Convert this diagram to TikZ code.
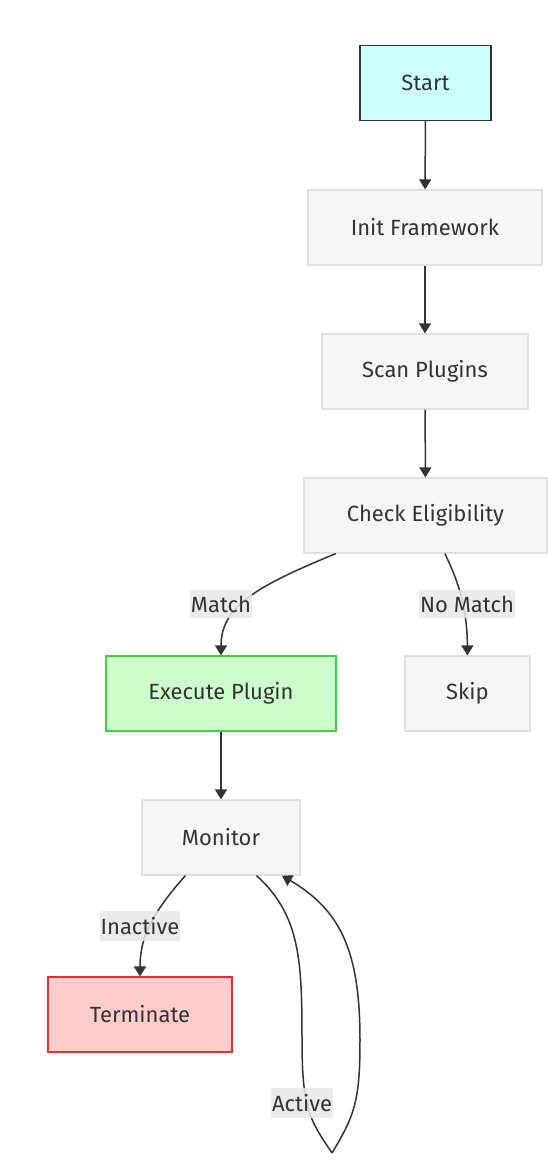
\documentclass[tikz,border=0pt]{standalone}
\usepackage{fontspec}
\setmainfont{Fira Sans}
\usepackage{tikz}
\usetikzlibrary{arrows.meta}

\definecolor{txtgray}{RGB}{51,51,51}
\definecolor{boxfill}{RGB}{246,246,246}
\definecolor{boxline}{RGB}{224,224,224}
\definecolor{startfill}{RGB}{204,255,255}
\definecolor{execfill}{RGB}{204,255,204}
\definecolor{execline}{RGB}{68,204,68}
\definecolor{termfill}{RGB}{255,204,204}
\definecolor{termline}{RGB}{221,51,51}
\definecolor{lblfill}{RGB}{232,232,232}

\tikzset{
  box/.style={rectangle, draw=boxline, fill=boxfill, line width=1.2, minimum height=75, text=txtgray, font=\fontsize{22}{26}\selectfont, inner sep=0},
  flow/.style={draw=txtgray, line width=1.5, -{Triangle[length=10,width=12]}},
  lbl/.style={fill=lblfill, fill opacity=0.85, text opacity=1, text=txtgray, font=\fontsize{22}{26}\selectfont, inner xsep=1, inner ysep=6}
}

\begin{document}
\begin{tikzpicture}[x=1pt,y=1pt,yscale=-1,xscale=1]
\useasboundingbox (0,0) rectangle (548,1160);

%Shape: Rectangle [start]
\node (start) at (425.5,83) [box, draw=txtgray, fill=startfill, minimum width=131] {Start};
%Shape: Rectangle [init]
\node (init) at (425,227.5) [box, minimum width=234] {Init Framework};
%Shape: Rectangle [scan]
\node (scan) at (425,371.5) [box, minimum width=206] {Scan Plugins};
%Shape: Rectangle [check]
\node (check) at (425.5,515.5) [box, minimum width=243] {Check Eligibility};
%Shape: Rectangle [exec]
\node (exec) at (221,693.5) [box, draw=execline, fill=execfill, minimum width=230] {Execute Plugin};
%Shape: Rectangle [skip]
\node (skip) at (467.5,693.5) [box, minimum width=125] {Skip};
%Shape: Rectangle [monitor]
\node (monitor) at (221,837.5) [box, minimum width=158] {Monitor};
%Shape: Rectangle [term]
\node (term) at (140,1014.5) [box, draw=termline, fill=termfill, minimum width=184] {Terminate};

%Straight Lines
\draw [flow] (start) -- (init);
\draw [flow] (init) -- (scan);
\draw [flow] (scan) -- (check);
\draw [flow] (exec) -- (monitor);

%Curve Lines
\draw [flow] (check.203) .. controls (260,585) and (221,605) .. (exec.north);
\draw [flow] (check.297) .. controls (460,585) and (467,610) .. (skip.north);
\draw [flow] (monitor.227) .. controls (150,915) and (140,940) .. (term.north);

%Loop [monitor]
\coordinate (loopend) at (332,1153);
\draw [draw=txtgray, line width=1.5] (monitor.313) .. controls (300,915) and (302,960) .. (302,1040) .. controls (302,1110) and (310,1120) .. (loopend);
\draw [flow] (loopend) .. controls (355,1115) and (360,1100) .. (360,1040) .. controls (360,950) and (340,910) .. (monitor.328);

% Text Node
\node (lmatch) at (221,604) [lbl] {Match};
% Text Node
\node (lnomatch) at (467,604) [lbl] {No Match};
% Text Node
\node (linactive) at (140,926) [lbl] {Inactive};
% Text Node
\node (lactive) at (302,1103) [lbl] {Active};

\end{tikzpicture}
\end{document}
